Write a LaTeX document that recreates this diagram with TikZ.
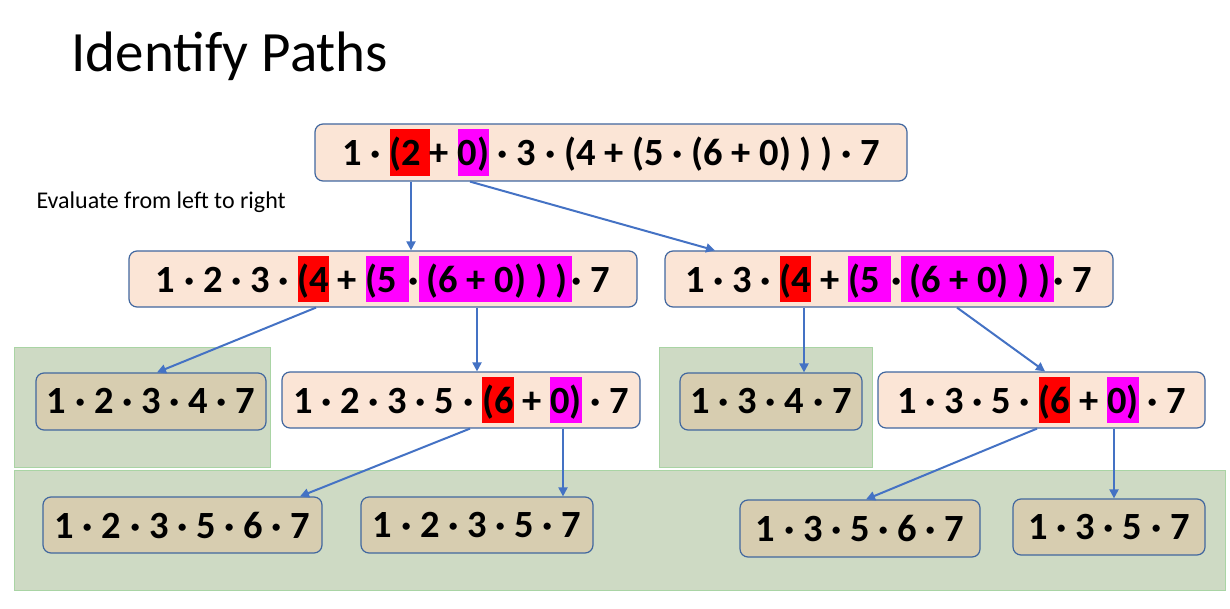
\documentclass[tikz,border=0pt]{standalone}
\usepackage{fontspec}
\setmainfont{Carlito}
\usetikzlibrary{arrows.meta}

\definecolor{peach}{HTML}{FBE5D6}
\definecolor{tan}{HTML}{D7CDB0}
\definecolor{boxline}{HTML}{41679F}
\definecolor{arrowblue}{HTML}{4472C4}
\definecolor{panelgreen}{HTML}{CEDAC4}
\definecolor{panelline}{HTML}{A9D4A4}
\definecolor{hlred}{RGB}{255,0,0}
\definecolor{hlpink}{RGB}{255,0,255}

\newcommand{\hlbox}[2]{{\setlength{\fboxsep}{0pt}\colorbox{#1}{#2\rule[-0.25em]{0pt}{1.2em}}}}

\tikzset{
	expr/.style={draw=boxline, line width=1.2pt, rounded corners=8pt, fill=peach, inner sep=0pt,
		font=\fontsize{38.5}{42}\selectfont\bfseries},
	leaf/.style={expr, fill=tan},
	panel/.style={fill=panelgreen, draw=panelline, line width=1pt},
	arr/.style={color=arrowblue, line width=2pt, -{Triangle[length=9pt,width=9pt]}}
}

\begin{document}
\begin{tikzpicture}[x=1pt,y=-1pt]
	\useasboundingbox (0,0) rectangle (1230,609);
	% green panels behind the evaluated leaves
	\draw[panel] (14,347) rectangle (270,467);
	\draw[panel] (659,347) rectangle (872,467);
	\draw[panel] (14,470) rectangle (1225,590);

	\node[anchor=base west, font=\fontsize{57}{60}\selectfont] (title) at (68,72) {Identify Paths};
	\node[anchor=base west, font=\fontsize{24}{26}\selectfont] (note) at (33,209) {Evaluate from left to right};

	\node[expr, minimum width=592, minimum height=57] (p0) at (611,152.5)
		{1 · \hlbox{hlred}{(2 }+ \hlbox{hlpink}{0)} · 3 · (4 + (5 · (6 + 0) ) ) · 7};
	\node[expr, minimum width=508, minimum height=56] (p1) at (383,279)
		{1 · 2 · 3 · \hlbox{hlred}{(4}\ + \hlbox{hlpink}{(5\hspace{0.3em}}·\hlbox{hlpink}{\hspace{0.2em}(6 + 0) ) )\hspace{0.1em}}· 7};
	\node[expr, minimum width=448, minimum height=56] (p2) at (889,279)
		{1 · 3 · \hlbox{hlred}{(4}\ + \hlbox{hlpink}{(5\hspace{0.3em}}·\hlbox{hlpink}{\hspace{0.2em}(6 + 0) ) )\hspace{0.1em}}· 7};
	\node[leaf, minimum width=230, minimum height=57] (p11) at (151,401.5) {1 · 2 · 3 · 4 · 7};
	\node[expr, minimum width=358, minimum height=56] (p12) at (461,400)
		{1 · 2 · 3 · 5 · \hlbox{hlred}{(6} + \hlbox{hlpink}{0)} · 7};
	\node[leaf, minimum width=182, minimum height=57] (p21) at (771,401.5) {1 · 3 · 4 · 7};
	\node[expr, minimum width=327, minimum height=56] (p22) at (1041.5,400)
		{1 · 3 · 5 · \hlbox{hlred}{(6} + \hlbox{hlpink}{0)} · 7};
	\node[leaf, minimum width=279, minimum height=56] (p121) at (182.5,525) {1 · 2 · 3 · 5 · 6 · 7};
	\node[leaf, minimum width=232, minimum height=56] (p122) at (477,525) {1 · 2 · 3 · 5 · 7};
	\node[leaf, minimum width=240, minimum height=57] (p221) at (860,528.5) {1 · 3 · 5 · 6 · 7};
	\node[leaf, minimum width=192, minimum height=56] (p222) at (1109,527) {1 · 3 · 5 · 7};

	\path[arr]
		([xshift=-200pt]p0.south) edge ([xshift=28pt]p1.north)
		([xshift=-141pt]p0.south) edge ([xshift=-174pt]p2.north)
		([xshift=-67pt]p1.south) edge ([xshift=6pt]p11.north)
		([xshift=94pt]p1.south) edge ([xshift=16pt]p12.north)
		([xshift=-85pt]p2.south) edge ([xshift=33pt]p21.north)
		([xshift=68pt]p2.south) edge ([xshift=3.5pt]p22.north)
		([xshift=9pt]p12.south) edge ([xshift=117.5pt]p121.north)
		([xshift=102pt]p12.south) edge ([xshift=86pt]p122.north)
		([xshift=-4.5pt]p22.south) edge ([xshift=6pt]p221.north)
		([xshift=72.5pt]p22.south) edge ([xshift=5pt]p222.north);
\end{tikzpicture}
\end{document}
